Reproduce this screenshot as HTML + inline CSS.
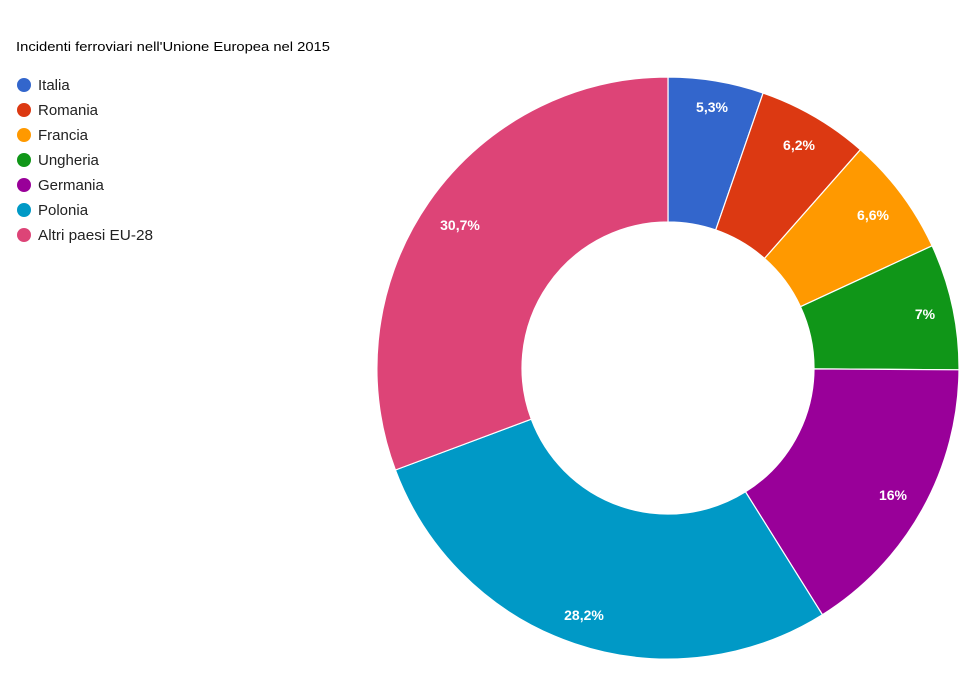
<!DOCTYPE html>
<html><head><meta charset="utf-8"><style>
html,body{margin:0;padding:0;background:#fff;}
svg{display:block;font-family:"Liberation Sans",Arial,sans-serif;}
</style></head><body>
<svg width="980" height="685" viewBox="0 0 980 685">
<rect width="980" height="685" fill="#fff"/>
<text x="16" y="51" font-size="13" fill="#000" textLength="314" lengthAdjust="spacingAndGlyphs">Incidenti ferroviari nell'Unione Europea nel 2015</text>
<g font-size="15" fill="#222">
<circle cx="24" cy="85" r="7" fill="#3366cc"/><text x="38" y="90">Italia</text>
<circle cx="24" cy="110" r="7" fill="#dc3912"/><text x="38" y="115">Romania</text>
<circle cx="24" cy="135" r="7" fill="#ff9900"/><text x="38" y="140">Francia</text>
<circle cx="24" cy="160" r="7" fill="#109618"/><text x="38" y="165">Ungheria</text>
<circle cx="24" cy="185" r="7" fill="#990099"/><text x="38" y="190">Germania</text>
<circle cx="24" cy="210" r="7" fill="#0099c6"/><text x="38" y="215">Polonia</text>
<circle cx="24" cy="235" r="7" fill="#dd4477"/><text x="38" y="240" textLength="115" lengthAdjust="spacingAndGlyphs">Altri paesi EU-28</text>
</g>
<g stroke="#fff" stroke-width="1.2">
<path d="M668,77 A291,291 0 0 1 763.1,93 L715.7,230 A146,146 0 0 0 668,222 Z" fill="#3366cc"/>
<path d="M763.1,93 A291,291 0 0 1 860.4,149.7 L764.5,258.5 A146,146 0 0 0 715.7,230 Z" fill="#dc3912"/>
<path d="M860.4,149.7 A291,291 0 0 1 932.1,245.8 L800.5,306.7 A146,146 0 0 0 764.5,258.5 Z" fill="#ff9900"/>
<path d="M932.1,245.8 A291,291 0 0 1 959,369.8 L814,368.9 A146,146 0 0 0 800.5,306.7 Z" fill="#109618"/>
<path d="M959,369.8 A291,291 0 0 1 822.4,614.7 L745.5,491.8 A146,146 0 0 0 814,368.9 Z" fill="#990099"/>
<path d="M822.4,614.7 A291,291 0 0 1 395.4,470 L531.3,419.2 A146,146 0 0 0 745.5,491.8 Z" fill="#0099c6"/>
<path d="M395.4,470 A291,291 0 0 1 668,77 L668,222 A146,146 0 0 0 531.3,419.2 Z" fill="#dd4477"/>
</g>
<g font-size="14" font-weight="bold" fill="#fff" text-anchor="middle">
<text x="712" y="112">5,3%</text>
<text x="799" y="150">6,2%</text>
<text x="873" y="220">6,6%</text>
<text x="925" y="319">7%</text>
<text x="893" y="500">16%</text>
<text x="584" y="620">28,2%</text>
<text x="460" y="230">30,7%</text>
</g>
</svg>
</body></html>
